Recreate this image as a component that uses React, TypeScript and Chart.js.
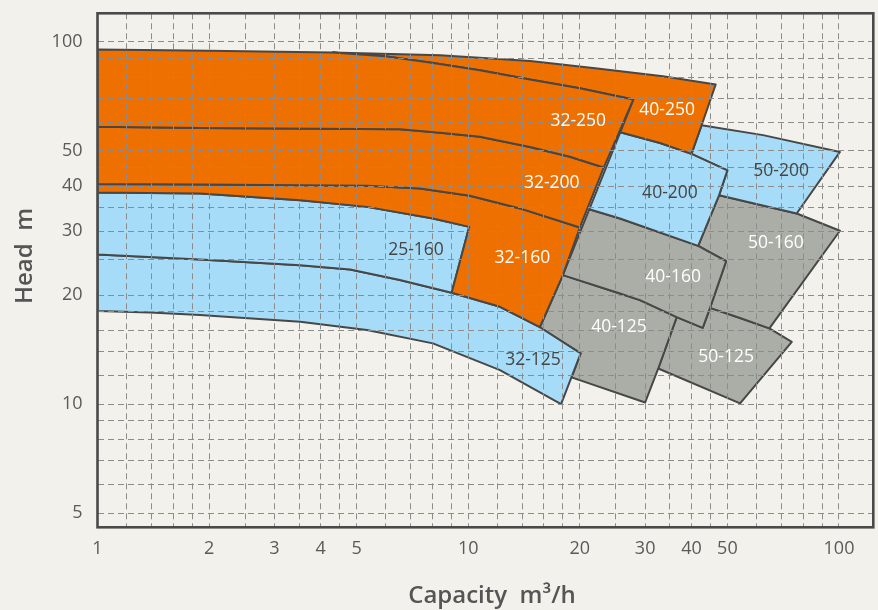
import { useEffect, useRef } from "react";
import { Chart, registerables } from "chart.js";

Chart.register(...registerables);

type P = [number, number];

// ---- axis grid & labels (capacity m³/h on x, head m on y) ----
const xGridValues = [1, 1.2, 1.4, 1.6, 1.8, 2, 2.5, 3, 3.5, 4, 4.5, 5, 6, 7, 8, 9, 10, 12, 14, 16, 18, 20, 25, 30, 35, 40, 45, 50, 60, 70, 80, 90, 100];
const xTickLabels = [1, 2, 3, 4, 5, 10, 20, 30, 40, 50, 100];
const yGridValues = [5, 6, 7, 8, 9, 10, 12, 14, 16, 18, 20, 25, 30, 35, 40, 45, 50, 60, 70, 80, 90, 100];
const yTickLabels = [5, 10, 20, 30, 40, 50, 100];
const xRange = [1, 123.75];
const yRange = [4.567, 120];

// ---- boundary curves ----
const curveTop: P[] = [[1, 95.3], [2, 94.6], [4.3, 93.5], [8.4, 91.9], [14.7, 88.6], [22.3, 84.5], [33.5, 80.4], [46.5, 76.3]];
const curve32_250: P[] = [[4.3, 93.5], [5.96, 91.3], [7.88, 87.7], [10.75, 83.55], [14.67, 78.73], [20, 74.5], [27.87, 69.34]];
const curve32_200: P[] = [[1, 58.3], [1.89, 57.9], [6.54, 57.4], [8.39, 56.1], [10.75, 54.7], [14.67, 51.3], [18.8, 48.2], [23.2, 45.0]];
const curve32_160: P[] = [[1, 40.5], [1.89, 40.4], [5.33, 40.05], [7.41, 39.38], [10.1, 37.6], [13.79, 34.7], [20, 30.74]];
const curve25_160: P[] = [[1, 38.4], [1.89, 38.15], [3.52, 36.57], [5.33, 35.04], [8.03, 32.55], [10.06, 30.86]];
const curve32_125Top: P[] = [[1, 25.9], [1.89, 25.08], [3.52, 24.19], [4.8, 23.54], [6.54, 22.0], [9.02, 20.29], [12.18, 18.56], [15.6, 16.3], [20.1, 13.8]];
const curve32_125Bottom: P[] = [[1, 18.06], [1.385, 17.89], [1.89, 17.61], [3.52, 16.87], [5.33, 16.01], [8.03, 14.71], [12.18, 12.41], [17.8, 10.0]];
const curve40_200Top: P[] = [[25.7, 56.3], [32.9, 52.6], [40, 49.1], [50, 44.2]];
const curve40_160Top: P[] = [[21.2, 34.5], [25.66, 32.55], [41.7, 27.35], [49.6, 24.8]];
const curve40_160Bottom: P[] = [[18.0, 22.7], [25.66, 20.2], [29.05, 19.36], [36.5, 17.38], [42.9, 16.24]];
const curve50_200Top: P[] = [[42.6, 58.9], [62.4, 55.3], [100.6, 49.7]];
const curve50_160Top: P[] = [[47.5, 37.75], [76.9, 33.6], [100.6, 30.1]];
const curve50_125Top: P[] = [[44.9, 18.44], [54.1, 17.28], [64.9, 16.18], [74.6, 14.86]];

// ---- straight edges (corner points) ----
const edge40_250Right: P[] = [[42.6, 58.9]];
const edge40_200Right: P[] = [[47.5, 37.75]];
const edge32_160Diag: P[] = [[18.0, 22.7], [15.6, 16.3]];
const edge50_200Rest: P[] = [[76.9, 33.6], [47.5, 37.75], [50, 44.2], [40, 49.1]];
const edge50_160Rest: P[] = [[64.9, 16.18], [54.1, 17.28], [44.9, 18.44], [49.6, 24.8], [41.7, 27.35]];
const edge40_160Right: P[] = [[44.9, 18.44]];
const edge40_125Rest: P[] = [[32.55, 12.54], [30.0, 10.1], [19.0, 11.85], [20.1, 13.8], [15.6, 16.3]];
const edge50_125Rest: P[] = [[54.1, 10.04], [32.55, 12.54]];
const edge50_125Start: P[] = [[36.5, 17.38], [42.9, 16.24]];

const rev = (a: P[]) => [...a].reverse();

const regionNames = ["32-250", "40-250", "32-200", "32-160", "25-160", "32-125", "40-200", "50-200", "40-160", "50-160", "40-125", "50-125"];
const regionFamily = ["o", "o", "o", "o", "b", "b", "b", "b", "g", "g", "g", "g"];
const labelX = [19.8, 34.4, 16.8, 14.0, 7.23, 14.95, 35.0, 69.8, 35.7, 67.6, 25.5, 49.6];
const labelY = [60.4, 64.8, 40.7, 25.3, 26.6, 13.22, 38.2, 44.0, 22.4, 27.8, 16.3, 13.5];

const regionShapes: P[][] = [
  [...curveTop.slice(0, 2), ...curve32_250, ...rev(curve32_200)],
  [...curveTop.slice(2), ...edge40_250Right, ...rev(curve40_200Top.slice(0, 3)), ...rev(curve32_250)],
  [...curve32_200, ...rev(curve32_160)],
  [...curve32_160, ...edge32_160Diag, ...rev(curve32_125Top.slice(5, 8)).slice(1), ...rev(curve25_160)],
  [...curve25_160, ...rev(curve32_125Top.slice(0, 6))],
  [...curve32_125Top, ...rev(curve32_125Bottom)],
  [...curve40_200Top, ...edge40_200Right, ...rev(curve40_160Top.slice(0, 3))],
  [...curve50_200Top, ...edge50_200Rest],
  [...curve40_160Top, ...edge40_160Right, ...rev(curve40_160Bottom)],
  [...curve50_160Top, ...edge50_160Rest],
  [...curve40_160Bottom.slice(0, 4), ...edge40_125Rest],
  [...edge50_125Start, ...curve50_125Top, ...edge50_125Rest],
];

const FILL: Record<string, string> = { o: "#ee7000", b: "#a6dcf7", g: "#abaea7" };
const TEXT: Record<string, string> = { o: "#ffffff", b: "#454545", g: "#ffffff" };
const OUTLINE = "#474747";
const BG = "#f2f1eb";
const FONT = "'Open Sans', 'DejaVu Sans', sans-serif";

export default function App() {
  const ref = useRef<HTMLCanvasElement>(null);

  useEffect(() => {
    const canvas = ref.current;
    if (!canvas) return;
    Chart.defaults.font.family = FONT;

    const datasets = regionShapes.map((shape, i) => {
      const pts = shape.map(([x, y]) => ({ x, y }));
      pts.push({ ...pts[0] });
      return {
        label: regionNames[i],
        data: pts,
        backgroundColor: FILL[regionFamily[i]],
        borderColor: OUTLINE,
        borderWidth: 2,
        borderJoinStyle: "round" as const,
        fill: "shape" as const,
        pointRadius: 0,
        pointHoverRadius: 0,
        tension: 0,
      };
    });

    const overlay = {
      id: "overlay",
      afterDraw(chart: any) {
        const { ctx, chartArea, scales } = chart;
        ctx.save();
        ctx.font = `17.5px ${FONT}`;
        ctx.textAlign = "center";
        ctx.textBaseline = "middle";
        regionNames.forEach((name, i) => {
          ctx.fillStyle = TEXT[regionFamily[i]];
          ctx.fillText(name, scales.x.getPixelForValue(labelX[i]), scales.y.getPixelForValue(labelY[i]));
        });
        ctx.strokeStyle = "#4a4a4a";
        ctx.lineWidth = 2.6;
        ctx.strokeRect(chartArea.left, chartArea.top, chartArea.right - chartArea.left, chartArea.bottom - chartArea.top);
        ctx.fillStyle = "#555555";
        ctx.font = `600 24px ${FONT}`;
        ctx.textBaseline = "alphabetic";
        ctx.textAlign = "center";
        ctx.fillText("Capacity  m³/h", 492, 603);
        ctx.translate(32, 256);
        ctx.rotate(-Math.PI / 2);
        ctx.fillText("Head  m", 0, 0);
        ctx.restore();
      },
    };

    const chart = new Chart(canvas, {
      type: "line",
      data: { datasets: datasets as any },
      options: {
        responsive: false,
        animation: false,
        events: [],
        layout: { padding: { top: 13.3, right: 4.7, left: 0, bottom: 0 } },
        plugins: { legend: { display: false }, tooltip: { enabled: false } },
        scales: {
          x: {
            type: "logarithmic",
            min: xRange[0],
            max: xRange[1],
            afterFit: (s: any) => { s.height = 82.7; s.paddingLeft = 0; s.paddingRight = 0; },
            afterBuildTicks: (s: any) => { s.ticks = xGridValues.map((value) => ({ value })); },
            grid: { color: "#8c8c8c", lineWidth: 1, drawTicks: false, z: 1 },
            border: { display: false, dash: [6, 4] },
            ticks: {
              autoSkip: false,
              maxRotation: 0,
              padding: 11,
              color: "#5a5a5a",
              font: { size: 18 },
              callback: (v: any) => (xTickLabels.includes(Number(v)) ? String(v) : ""),
            },
          },
          y: {
            type: "logarithmic",
            min: yRange[0],
            max: yRange[1],
            afterFit: (s: any) => { s.width = 97.5; s.paddingTop = 0; s.paddingBottom = 0; },
            afterBuildTicks: (s: any) => { s.ticks = yGridValues.map((value) => ({ value })); },
            grid: { color: "#8c8c8c", lineWidth: 1, drawTicks: false, z: 1 },
            border: { display: false, dash: [6, 4] },
            ticks: {
              autoSkip: false,
              padding: 15,
              color: "#5a5a5a",
              font: { size: 18 },
              callback: (v: any) => (yTickLabels.includes(Number(v)) ? String(v) : ""),
            },
          },
        },
      },
      plugins: [overlay],
    });

    return () => chart.destroy();
  }, []);

  return (
    <div style={{ position: "absolute", left: 0, top: 0, width: 878, height: 610, background: BG, overflow: "hidden" }}>
      <canvas ref={ref} width={878} height={610} style={{ display: "block" }} />
    </div>
  );
}
